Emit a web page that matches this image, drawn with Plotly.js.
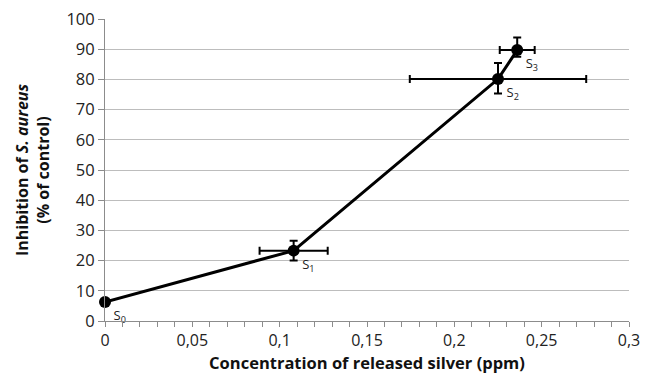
<!DOCTYPE html>
<html>
<head>
<meta charset="utf-8">
<script src="https://cdn.plot.ly/plotly-3.0.1.min.js"></script>
<style>html,body{margin:0;padding:0;background:#fff;}#chart{width:649px;height:380px;}</style>
</head>
<body>
<div id="chart"></div>
<script>
const samples = ["S<sub>0</sub>", "S<sub>1</sub>", "S<sub>2</sub>", "S<sub>3</sub>"];
const silverPpm = [0, 0.108, 0.225, 0.236];
const inhibition = [6.3, 23.3, 80.1, 89.7];
const silverErr = [0, 0.0195, 0.0505, 0.01];
const inhibitionErrPlus = [0, 3.3, 5.3, 4.2];
const inhibitionErrMinus = [0, 3.3, 4.8, 2.2];
const xTickVals = [0, 0.05, 0.1, 0.15, 0.2, 0.25, 0.3];
const yTickVals = [0, 10, 20, 30, 40, 50, 60, 70, 80, 90, 100];

const trace = {
  x: silverPpm,
  y: inhibition,
  mode: "lines+markers+text",
  text: samples,
  textposition: "bottom right",
  textfont: {family: "Open Sans, sans-serif", size: 13, color: "#222"},
  line: {color: "#000", width: 3},
  marker: {color: "#000", size: 12},
  error_x: {type: "data", array: silverErr, visible: true, color: "#000", thickness: 2, width: 4},
  error_y: {type: "data", array: inhibitionErrPlus, arrayminus: inhibitionErrMinus, symmetric: false, visible: true, color: "#000", thickness: 2, width: 4},
  cliponaxis: false,
  hoverinfo: "x+y"
};

const layout = {
  width: 649, height: 380,
  margin: {l: 105, r: 20, t: 19, b: 59},
  paper_bgcolor: "#fff", plot_bgcolor: "#fff",
  separators: ", ",
  showlegend: false,
  font: {family: "Open Sans, sans-serif", color: "#222"},
  xaxis: {
    range: [0, 0.3],
    tickvals: xTickVals,
    showgrid: false,
    zeroline: false,
    showline: true, linecolor: "#8c8c8c", linewidth: 1,
    ticks: "outside", ticklen: 5, tickcolor: "#8c8c8c",
    minor: {dtick: 0.01, ticks: "outside", ticklen: 5, tickcolor: "#8c8c8c", showgrid: false},
    tickfont: {size: 16, color: "#222"},
    title: {text: "<b>Concentration of released silver (ppm)</b>", font: {size: 16.5, color: "#111"}, standoff: 6}
  },
  yaxis: {
    range: [0, 100],
    tickvals: yTickVals,
    showgrid: true, gridcolor: "#bdbdbd", gridwidth: 1,
    zeroline: false,
    showline: true, linecolor: "#8c8c8c", linewidth: 1,
    ticks: "outside", ticklen: 6, tickcolor: "#8c8c8c",
    tickfont: {size: 16.5, color: "#222"},
    title: {text: "<b>Inhibition of <i>S. aureus</i><br>(% of control)</b>", font: {size: 16, color: "#111"}, standoff: 12}
  }
};

Plotly.newPlot("chart", [trace], layout, {displayModeBar: false, staticPlot: true});
</script>
</body>
</html>
